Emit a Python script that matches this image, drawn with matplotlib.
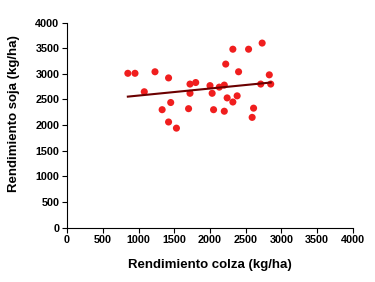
import matplotlib

matplotlib.use("Agg")
import matplotlib.pyplot as plt

plt.rcParams["font.family"] = ["Liberation Sans", "DejaVu Sans"]

colza = [850, 950, 1080, 1230, 1330, 1420, 1450, 1420, 1530, 1700, 1720,
         1720, 1800, 2000, 2030, 2050, 2130, 2200, 2220, 2240, 2200, 2320,
         2320, 2400, 2380, 2540, 2610, 2590, 2730, 2710, 2830, 2850]
soja = [3010, 3010, 2650, 3040, 2300, 2920, 2440, 2060, 1940, 2320, 2800,
        2620, 2830, 2770, 2620, 2300, 2740, 2780, 3190, 2530, 2270, 3480,
        2450, 3040, 2570, 3480, 2330, 2150, 3600, 2800, 2980, 2800]
trend_x = [850, 2850]
trend_y = [2555, 2830]
ticks = [0, 500, 1000, 1500, 2000, 2500, 3000, 3500, 4000]

fig = plt.figure(figsize=(3.75, 2.82), dpi=100)
ax = fig.add_axes([0.179, 0.193, 0.762, 0.727])

ax.scatter(colza, soja, s=26, color="#f01e1e", edgecolors="none", zorder=2)
ax.plot(trend_x, trend_y, color="#6b0000", lw=1.5, zorder=3)

ax.set_xlim(0, 4000)
ax.set_ylim(0, 4000)
ax.set_xticks(ticks)
ax.set_yticks(ticks)
ax.tick_params(direction="out", length=3.5, width=0.8, labelsize=7.8, pad=2)
for lab in ax.get_xticklabels() + ax.get_yticklabels():
    lab.set_fontweight("bold")
ax.spines["top"].set_visible(False)
ax.spines["right"].set_visible(False)
for s in ("left", "bottom"):
    ax.spines[s].set_linewidth(0.8)

ax.set_xlabel("Rendimiento colza (kg/ha)", fontsize=9.5, fontweight="bold")
ax.set_ylabel("Rendimiento soja (kg/ha)", fontsize=9.5, fontweight="bold")
ax.xaxis.set_label_coords(0.5, -0.155)
ax.yaxis.set_label_coords(-0.165, 0.555)

fig.savefig("out.png", dpi=100)
